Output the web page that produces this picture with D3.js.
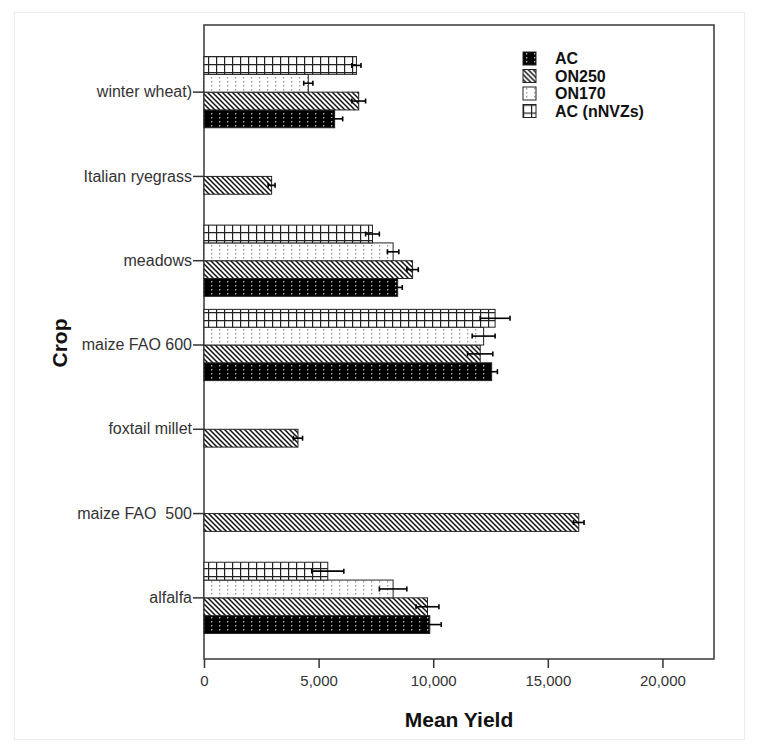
<!DOCTYPE html>
<html>
<head>
<meta charset="utf-8">
<script src="https://cdn.jsdelivr.net/npm/d3@7"></script>
<style>
  html, body { margin: 0; padding: 0; background: #fff; }
  svg { display: block; font-family: "Liberation Sans", Arial, sans-serif; }
</style>
</head>
<body>
<svg id="chart" width="757" height="751"></svg>
<script>
// Crops, top to bottom
const crops = ["winter wheat)", "Italian ryegrass", "meadows", "maize FAO 600", "foxtail millet", "maize FAO  500", "alfalfa"];
// Series, legend order
const seriesNames = ["AC", "ON250", "ON170", "AC (nNVZs)"];
// Mean yield per crop (null = no data)
const acValues      = [5700, null, 8450, 12550, null, null, 9850];
const on250Values   = [6750, 2950, 9100, 12050, 4100, 16350, 9750];
const on170Values   = [4550, null, 8250, 12200, null, null, 8250];
const acNnvzValues  = [6650, null, 7350, 12700, null, null, 5400];
// Error bar half-widths
const acErr      = [350, null, 200, 250, null, null, 500];
const on250Err   = [300, 150, 250, 550, 200, 230, 500];
const on170Err   = [200, null, 250, 500, null, null, 600];
const acNnvzErr  = [200, null, 300, 650, null, null, 700];
const xTicks = [0, 5000, 10000, 15000, 20000];

const seriesValues = { "AC": acValues, "ON250": on250Values, "ON170": on170Values, "AC (nNVZs)": acNnvzValues };
const seriesErrors = { "AC": acErr, "ON250": on250Err, "ON170": on170Err, "AC (nNVZs)": acNnvzErr };

const svg = d3.select("#chart");
const frame = { left: 204, right: 714, top: 25, bottom: 659 };

// ---- fill patterns ----
const defs = svg.append("defs");
// AC: black with white dots
const pAC = defs.append("pattern").attr("id", "pat-AC").attr("patternUnits", "userSpaceOnUse")
  .attr("width", 8).attr("height", 8);
pAC.append("rect").attr("width", 8).attr("height", 8).attr("fill", "#000");
pAC.append("rect").attr("x", 3).attr("y", 1).attr("width", 1.3).attr("height", 1.5).attr("fill", "#bbb");
pAC.append("rect").attr("x", 3).attr("y", 5).attr("width", 1.3).attr("height", 1.5).attr("fill", "#bbb");
// ON250: diagonal hatching
const pON250 = defs.append("pattern").attr("id", "pat-ON250").attr("patternUnits", "userSpaceOnUse")
  .attr("width", 5).attr("height", 5);
pON250.append("rect").attr("width", 5).attr("height", 5).attr("fill", "#fff");
pON250.append("path").attr("d", "M-1,-1 L6,6 M-1,4 L1,6 M4,-1 L6,1").attr("stroke", "#111").attr("stroke-width", 1.5);
// ON170: white with grey dots
const pON170 = defs.append("pattern").attr("id", "pat-ON170").attr("patternUnits", "userSpaceOnUse")
  .attr("width", 8).attr("height", 8);
pON170.append("rect").attr("width", 8).attr("height", 8).attr("fill", "#fff");
pON170.append("rect").attr("x", 3).attr("y", 1).attr("width", 1.3).attr("height", 1.5).attr("fill", "#999");
pON170.append("rect").attr("x", 3).attr("y", 5).attr("width", 1.3).attr("height", 1.5).attr("fill", "#999");
// AC (nNVZs): grid
const pGrid = defs.append("pattern").attr("id", "pat-ACn").attr("patternUnits", "userSpaceOnUse")
  .attr("width", 8).attr("height", 8);
pGrid.append("rect").attr("width", 8).attr("height", 8).attr("fill", "#fff");
pGrid.append("path").attr("d", "M0,0.5 H8 M0.5,0 V8").attr("stroke", "#222").attr("stroke-width", 1.4);
const fillFor = { "AC": "url(#pat-AC)", "ON250": "url(#pat-ON250)", "ON170": "url(#pat-ON170)", "AC (nNVZs)": "url(#pat-ACn)" };

// ---- outer panel ----
svg.append("rect").attr("x", 14.5).attr("y", 12.5).attr("width", 730).attr("height", 727)
  .attr("fill", "none").attr("stroke", "#ececec");

// ---- scales ----
const x = d3.scaleLinear().domain([0, 22250]).range([frame.left, frame.right]);
const y = d3.scaleBand().domain(crops).range([50, 640]).paddingInner(0.155).paddingOuter(0.0775);
const ySub = d3.scaleBand().domain(["AC (nNVZs)", "ON170", "ON250", "AC"]).range([0, y.bandwidth()]);

// plot frame
svg.append("rect").attr("x", frame.left).attr("y", frame.top)
  .attr("width", frame.right - frame.left).attr("height", frame.bottom - frame.top)
  .attr("fill", "none").attr("stroke", "#444").attr("stroke-width", 1.6);

// ---- bars ----
const barData = [];
seriesNames.forEach(s => {
  crops.forEach((c, i) => {
    const v = seriesValues[s][i];
    if (v != null) barData.push({ series: s, crop: c, value: v, err: seriesErrors[s][i] });
  });
});

const bars = svg.append("g");
bars.selectAll("rect").data(barData).join("rect")
  .attr("x", x(0))
  .attr("y", d => y(d.crop) + ySub(d.series))
  .attr("width", d => x(d.value) - x(0))
  .attr("height", ySub.bandwidth())
  .attr("fill", d => fillFor[d.series])
  .attr("stroke", "#222").attr("stroke-width", 1);

// ---- error bars ----
const eb = svg.append("g").attr("stroke", "#000").attr("stroke-width", 1.6);
barData.forEach(d => {
  const cy = y(d.crop) + ySub(d.series) + ySub.bandwidth() / 2;
  eb.append("line").attr("x1", x(d.value - d.err)).attr("x2", x(d.value + d.err)).attr("y1", cy).attr("y2", cy);
  eb.append("line").attr("x1", x(d.value - d.err)).attr("x2", x(d.value - d.err)).attr("y1", cy - 2.5).attr("y2", cy + 2.5);
  eb.append("line").attr("x1", x(d.value + d.err)).attr("x2", x(d.value + d.err)).attr("y1", cy - 2.5).attr("y2", cy + 2.5);
});

// ---- axes ----
const xAxis = svg.append("g").attr("transform", `translate(0,${frame.bottom})`)
  .call(d3.axisBottom(x).tickValues(xTicks).tickSize(9).tickSizeOuter(0).tickFormat(d3.format(",")));
xAxis.select(".domain").remove();
xAxis.selectAll("line").attr("stroke", "#333").attr("stroke-width", 1.5);
xAxis.selectAll("text").attr("font-size", 15).attr("fill", "#333").attr("dy", "1.0em");

const yAxis = svg.append("g").attr("transform", `translate(${frame.left},0)`)
  .call(d3.axisLeft(y).tickSize(11).tickPadding(1));
yAxis.select(".domain").remove();
yAxis.selectAll("line").attr("stroke", "#333").attr("stroke-width", 1.5);
yAxis.selectAll("text").attr("font-size", 16).attr("fill", "#333").attr("xml:space", "preserve");

// axis titles
svg.append("text").attr("x", (frame.left + frame.right) / 2).attr("y", 727)
  .attr("text-anchor", "middle").attr("font-size", 21).attr("font-weight", "bold").attr("fill", "#111")
  .text("Mean Yield");
svg.append("text").attr("transform", "translate(67,343) rotate(-90)")
  .attr("text-anchor", "middle").attr("font-size", 21).attr("font-weight", "bold").attr("fill", "#111")
  .text("Crop");

// ---- legend ----
const legend = svg.append("g").attr("transform", "translate(523,52)");
seriesNames.forEach((s, i) => {
  const g = legend.append("g").attr("transform", `translate(0,${i * 17.5})`);
  g.append("rect").attr("width", 13).attr("height", 13).attr("fill", fillFor[s])
    .attr("stroke", "#222").attr("stroke-width", 1);
  g.append("text").attr("x", 32).attr("y", 12).attr("font-size", 16).attr("font-weight", "bold")
    .attr("fill", "#111").text(s);
});
</script>
</body>
</html>
